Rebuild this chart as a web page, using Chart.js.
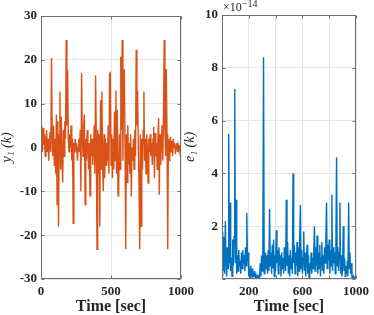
<!DOCTYPE html>
<html>
<head>
<meta charset="utf-8">
<script src="https://cdn.jsdelivr.net/npm/chart.js@4.4.1/dist/chart.umd.min.js"></script>
<style>
html, body { margin: 0; padding: 0; background: #fff; overflow: hidden; }
#wrap { position: relative; width: 374px; height: 315px; }
canvas { position: absolute; top: 0; }
#c1 { left: 0; }
#c2 { left: 183px; }
</style>
</head>
<body>
<div id="wrap">
	<canvas id="c1" width="200" height="315"></canvas>
	<canvas id="c2" width="191" height="315"></canvas>
</div>
<script>
// sample spacing of both series (sec)
const STEP = 5;

// y1(k), one row = 50 sec
const y1 = [
	2, 5, -1, 4.5, 0.5, 3, -2, 1.5, 4, -1,
	2, -3, 1, 3.5, -1, 20.5, 3, -2, 5, -4.2,
	2, -6, 7.5, -13, 6, -18, 3, 12.8, -5, 7,
	-3, -8, 4, -2, 6, 2, 24.5, 5, 17.8, 2,
	-1, 3, 0, 5, -3, 2, -17.3, 1, 0, 2,
	-1, 1, -3, 0, 2, -1, 4, -10, 17, 3,
	-2, 5, 7.5, -13, 2, -3, 4, 0, -5, 1,
	-11, 3, -2, 2, -4, 0, 5, -6, 16.5, 2,
	-23.2, 4, -6, 3, -18, 10.8, -5, 12.8, -4, -10,
	3, -7, 2, -4, 1, -3, 5, -6, 16.8, 17,
	-4, 3, -7, 2, -5, 8.2, -3, 13, -6, 8.6,
	-11, -9, 3, -5, 20.7, 4, 24.5, -3, 15.8, 17.8,
	2, -23.2, 3, -8, 5.1, -4, 1, -6, 3, -11.2,
	0, -3, 2, -5, 4, -2, 22.3, 5, 13, 1,
	-8, -23.2, 3, -18, 2, -5, 4, 12.8, -3, 2,
	-6, 3, 0, -8.1, 2, -1, 3, -2, 1, -4,
	2, 4.7, -7, 3.3, -2, 1, -5, 2, 6.7, -10.8,
	3, -4, 1, 5, -3, 7, 24.5, 4, -2, 17.9,
	3, -23.2, 2, -3, 1, 2.5, -1, 1.5, -2, 2,
	0, 1, -1.5, 0.5, 1, -1, 0.5, -0.5, 0, -1.5,
	-1
];

// e1(k) in units of 1e-14
const e1Scaled = [
	0.1, 1.8, 0.3, 1.6, 0.2, 2.2, 0.8, 0.1, 1.2, 0.4,
	5.5, 0.6, 2.9, 0.3, 0.8, 0.1, 1.5, 0.5, 1.6, 7.2,
	0.6, 3.0, 0.2, 0.9, 0.3, 1.1, 0.5, 0.7, 0.2, 1.0,
	0.4, 1.1, 0.6, 0.9, 0.3, 1.2, 0.5, 2.5, 0.7, 1.0,
	0.1, 0.3, 0.05, 0.5, 0.1, 0.4, 0.05, 0.2, 0.1, 0.3,
	0.05, 0.15, 0.05, 0.1, 0.02, 0.1, 0.05, 0.6, 0.1, 0.9,
	0.3, 1.4, 8.4, 0.2, 0.6, 1.0, 0.4, 0.9, 0.2, 1.1,
	0.3, 2.65, 0.5, 1.0, 0.2, 1.3, 0.4, 1.5, 0.1, 0.9,
	0.3, 1.85, 0.6, 1.1, 0.2, 1.2, 0.5, 0.9, 0.1, 1.0,
	0.4, 0.8, 0.2, 1.2, 0.6, 0.3, 3.0, 0.5, 1.4, 0.2,
	0.9, 0.1, 1.1, 0.4, 0.8, 0.2, 4.0, 0.6, 1.3, 0.2,
	1.0, 0.5, 1.4, 0.1, 1.2, 0.3, 1.6, 2.8, 0.4, 1.1,
	0.2, 0.8, 1.8, 0.3, 1.0, 0.1, 0.7, 1.3, 0.2, 0.9,
	0.05, 0.6, 0.3, 1.0, 0.2, 0.8, 0.4, 1.1, 2.0, 0.3,
	1.2, 0.5, 1.65, 0.2, 1.0, 0.4, 1.3, 0.1, 0.8, 1.4,
	0.3, 0.9, 0.2, 1.2, 0.6, 1.5, 2.9, 0.4, 1.3, 0.7,
	1.5, 0.2, 1.1, 0.5, 3.2, 0.3, 1.2, 0.6, 1.0, 0.2,
	1.4, 4.6, 0.5, 1.2, 0.3, 1.0, 2.9, 0.2, 0.9, 0.1,
	0.6, 2.0, 0.3, 0.8, 0.1, 0.5, 0.2, 0.7, 0.1, 2.9,
	0.4, 1.0, 0.2, 0.6, 0.05, 0.1, 0.02, 0.08, 0.03, 0.05,
	0.02
];

// tick labels
const leftXTicks = [0, 500, 1000];
const rightXLabels = [200, 600, 1000];
const rightYLabels = [2, 4, 6, 8, 10];

const ORANGE = '#D95319';
const BLUE = '#0072BD';
const AXIS_COLOR = '#6f6f6f';
const GRID_COLOR = '#e6e6e6';
const TEXT_COLOR = '#262626';
const SERIF = '"Liberation Serif", "DejaVu Serif", serif';

const toPoints = arr => arr.map((v, i) => ({ x: i * STEP, y: v }));

// MATLAB風の枠と内向きの目盛り
const boxPlugin = {
	id: 'box',
	afterDraw(chart) {
		const { ctx, chartArea: a, scales } = chart;
		const L = Math.round(a.left) + 0.5, R = Math.round(a.right) - 0.5;
		const T = Math.round(a.top) + 0.5, B = Math.round(a.bottom) - 0.5;
		ctx.save();
		ctx.strokeStyle = AXIS_COLOR;
		ctx.lineWidth = 1;
		ctx.strokeRect(L, T, R - L, B - T);
		ctx.beginPath();
		scales.x.ticks.forEach(t => {
			const px = Math.round(scales.x.getPixelForValue(t.value)) + 0.5;
			ctx.moveTo(px, B); ctx.lineTo(px, B - 3);
			ctx.moveTo(px, T); ctx.lineTo(px, T + 3);
		});
		scales.y.ticks.forEach(t => {
			const py = Math.round(scales.y.getPixelForValue(t.value)) + 0.5;
			ctx.moveTo(L, py); ctx.lineTo(L + 3, py);
			ctx.moveTo(R, py); ctx.lineTo(R - 3, py);
		});
		ctx.stroke();
		const exp = chart.options.plugins.box && chart.options.plugins.box.exponent;
		if (exp) {
			ctx.fillStyle = TEXT_COLOR;
			ctx.textBaseline = 'alphabetic';
			ctx.font = '12px ' + SERIF;
			ctx.fillText('\u00d710', a.left + 1, a.top - 4);
			const w = ctx.measureText('\u00d710').width;
			ctx.font = '10px ' + SERIF;
			ctx.fillText(exp, a.left + 1 + w, a.top - 8);
		}
		ctx.restore();
	}
};

function makeOptions(cfg) {
	return {
		responsive: false,
		animation: false,
		events: [],
		layout: { padding: { top: cfg.padTop, right: cfg.padRight, left: 0, bottom: 0 } },
		plugins: {
			legend: { display: false },
			tooltip: { enabled: false },
			box: { exponent: cfg.exponent }
		},
		scales: {
			x: {
				type: 'linear',
				min: 0,
				max: 1000,
				afterFit: s => { s.height = 36; },
				afterBuildTicks: s => { s.ticks = cfg.xTicks.map(v => ({ value: v })); },
				border: { display: false },
				grid: { color: GRID_COLOR, drawTicks: false },
				ticks: {
					padding: 5,
					color: TEXT_COLOR,
					maxRotation: 0,
					autoSkip: false,
					font: { family: SERIF, size: 13, weight: 'bold' },
					callback: v => cfg.xLabel(v)
				},
				title: {
					display: true,
					text: 'Time [sec]',
					color: TEXT_COLOR,
					padding: { top: 0, bottom: 0 },
					font: { family: SERIF, size: 16, weight: 'bold', lineHeight: 1 }
				}
			},
			y: {
				min: cfg.yMin,
				max: cfg.yMax,
				afterFit: s => { s.width = cfg.yWidth; },
				afterBuildTicks: s => { s.ticks = cfg.yTicks.map(v => ({ value: v })); },
				border: { display: false },
				grid: { color: GRID_COLOR, drawTicks: false },
				ticks: {
					padding: 4,
					color: TEXT_COLOR,
					autoSkip: false,
					font: { family: SERIF, size: 13, weight: 'bold' },
					callback: v => cfg.yLabel(v)
				},
				title: {
					display: true,
					text: cfg.yTitle,
					color: TEXT_COLOR,
					padding: { top: 0, bottom: 0 },
					font: { family: SERIF, size: 14, style: 'italic', lineHeight: 1 }
				}
			}
		}
	};
}

new Chart(document.getElementById('c1'), {
	type: 'line',
	data: {
		datasets: [{
			data: toPoints(y1),
			borderColor: ORANGE,
			borderWidth: 1.4,
			pointRadius: 0,
			tension: 0
		}]
	},
	options: makeOptions({
		padTop: 16, padRight: 19, yWidth: 41,
		yMin: -30, yMax: 30,
		yTicks: [-30, -20, -10, 0, 10, 20, 30],
		xTicks: leftXTicks,
		xLabel: v => String(v),
		yLabel: v => String(v),
		yTitle: 'y\u2081 (k)'
	}),
	plugins: [boxPlugin]
});

new Chart(document.getElementById('c2'), {
	type: 'line',
	data: {
		datasets: [{
			data: toPoints(e1Scaled),
			borderColor: BLUE,
			borderWidth: 1.4,
			pointRadius: 0,
			tension: 0
		}]
	},
	options: makeOptions({
		padTop: 15, padRight: 16, yWidth: 39,
		yMin: 0, yMax: 10,
		yTicks: [0, 2, 4, 6, 8, 10],
		xTicks: [0, 200, 400, 600, 800, 1000],
		xLabel: v => rightXLabels.includes(v) ? String(v) : '',
		yLabel: v => rightYLabels.includes(v) ? String(v) : '',
		yTitle: 'e\u2081 (k)',
		exponent: '\u221214'
	}),
	plugins: [boxPlugin]
});
</script>
</body>
</html>
